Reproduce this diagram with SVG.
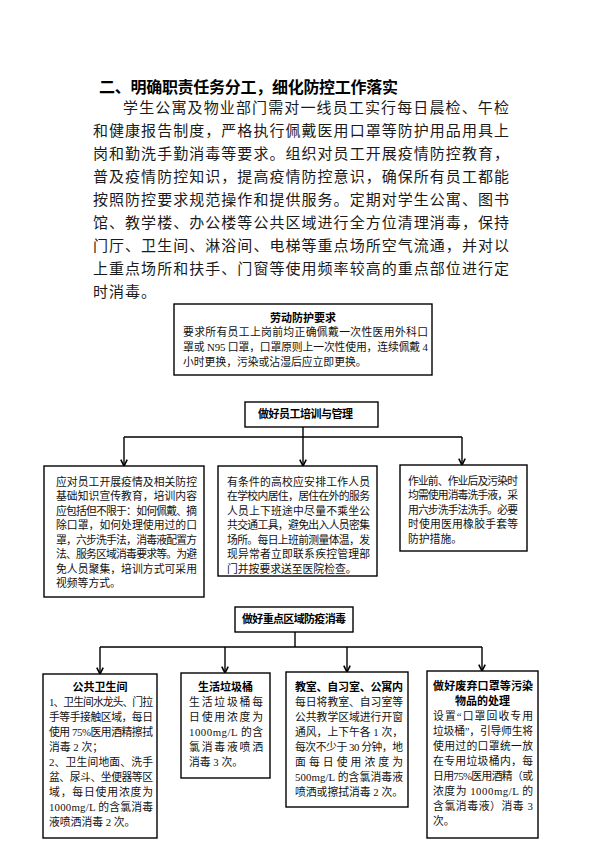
<svg xmlns="http://www.w3.org/2000/svg" width="600" height="848" viewBox="0 0 600 848">
<defs>
<marker id="arr" viewBox="0 0 10 10" refX="9" refY="5" markerWidth="8" markerHeight="8" markerUnits="userSpaceOnUse" orient="auto">
<path d="M1,1 L9,5 L1,9" fill="none" stroke="#000" stroke-width="2"/>
</marker>
<style>
.h{font-family:"Noto Sans CJK SC",sans-serif;font-weight:700;font-size:16px;fill:#000}
.p{font-family:"Noto Sans CJK SC",sans-serif;font-size:15px;fill:#1a1a1a}
.t{font-family:"Liberation Serif","Noto Sans CJK SC",serif;font-size:10.8px;fill:#111}
.b{font-family:"Noto Sans CJK SC",sans-serif;font-weight:700;font-size:11px;fill:#000}
.box{fill:#fff;stroke:#000;stroke-width:1.4}
.ln{fill:none;stroke:#000;stroke-width:1.4}
.ar{fill:none;stroke:#000;stroke-width:1.4;marker-end:url(#arr)}
</style>
</defs>
<rect width="600" height="848" fill="#fff"/>

<g id="heading">
<text class="h" x="99" y="93" textLength="299" lengthAdjust="spacing">二、明确职责任务分工，细化防控工作落实</text>
</g>
<g id="paragraph">
<text class="p" x="123" y="113" textLength="386" lengthAdjust="spacing">学生公寓及物业部门需对一线员工实行每日晨检、午检</text>
<text class="p" x="93" y="136" textLength="416" lengthAdjust="spacing">和健康报告制度，严格执行佩戴医用口罩等防护用品用具上</text>
<text class="p" x="93" y="159" textLength="416" lengthAdjust="spacing">岗和勤洗手勤消毒等要求。组织对员工开展疫情防控教育，</text>
<text class="p" x="93" y="182" textLength="416" lengthAdjust="spacing">普及疫情防控知识，提高疫情防控意识，确保所有员工都能</text>
<text class="p" x="93" y="205" textLength="416" lengthAdjust="spacing">按照防控要求规范操作和提供服务。定期对学生公寓、图书</text>
<text class="p" x="93" y="228" textLength="416" lengthAdjust="spacing">馆、教学楼、办公楼等公共区域进行全方位清理消毒，保持</text>
<text class="p" x="93" y="251" textLength="416" lengthAdjust="spacing">门厅、卫生间、淋浴间、电梯等重点场所空气流通，并对以</text>
<text class="p" x="93" y="274" textLength="416" lengthAdjust="spacing">上重点场所和扶手、门窗等使用频率较高的重点部位进行定</text>
<text class="p" x="93" y="297" letter-spacing="1">时消毒。</text>
</g>

<g id="connectors">
<line class="ln" x1="303" y1="427" x2="303" y2="437"/>
<line class="ln" x1="124" y1="437" x2="462" y2="437"/>
<line class="ar" x1="124" y1="437" x2="124" y2="466"/>
<line class="ar" x1="303" y1="437" x2="303" y2="466"/>
<line class="ar" x1="462" y1="437" x2="462" y2="465"/>
<line class="ln" x1="295" y1="632" x2="295" y2="647"/>
<line class="ln" x1="100" y1="647" x2="482" y2="647"/>
<line class="ar" x1="100" y1="647" x2="100" y2="674"/>
<line class="ar" x1="225" y1="647" x2="225" y2="673"/>
<line class="ar" x1="347" y1="647" x2="347" y2="672"/>
<line class="ar" x1="482" y1="647" x2="482" y2="671"/>
</g>

<g id="node-labor">
<rect class="box" x="174" y="304" width="258" height="71"/>
<text class="b" x="303" y="322" text-anchor="middle" font-size="11.5">劳动防护要求</text>
<text class="t" x="183" y="336" font-size="11" textLength="245" lengthAdjust="spacing">要求所有员工上岗前均正确佩戴一次性医用外科口</text>
<text class="t" x="183" y="351" font-size="11" textLength="245" lengthAdjust="spacing">罩或 N95 口罩，口罩原则上一次性使用，连续佩戴 4</text>
<text class="t" x="183" y="366" font-size="11">小时更换，污染或沾湿后应立即更换。</text>
</g>

<g id="node-training">
<rect class="box" x="245" y="402" width="133" height="25"/>
<text class="b" x="258" y="418" textLength="95" lengthAdjust="spacing">做好员工培训与管理</text>
</g>

<g id="node-train-left">
<rect class="box" x="44" y="466" width="160" height="131"/>
<text class="t" x="56" y="485.5" textLength="141" lengthAdjust="spacing">应对员工开展疫情及相关防控</text>
<text class="t" x="56" y="500" textLength="141" lengthAdjust="spacing">基础知识宣传教育，培训内容</text>
<text class="t" x="56" y="514.5" textLength="141" lengthAdjust="spacing">应包括但不限于：如何佩戴、摘</text>
<text class="t" x="56" y="529" textLength="141" lengthAdjust="spacing">除口罩，如何处理使用过的口</text>
<text class="t" x="56" y="543.5" textLength="141" lengthAdjust="spacing">罩，六步洗手法，消毒液配置方</text>
<text class="t" x="56" y="558" textLength="141" lengthAdjust="spacing">法、服务区域消毒要求等。为避</text>
<text class="t" x="56" y="572.5" textLength="141" lengthAdjust="spacing">免人员聚集，培训方式可采用</text>
<text class="t" x="56" y="587">视频等方式。</text>
</g>

<g id="node-train-mid">
<rect class="box" x="218" y="466" width="159" height="110"/>
<text class="t" x="227" y="485.5" textLength="143" lengthAdjust="spacing">有条件的高校应安排工作人员</text>
<text class="t" x="227" y="500" textLength="143" lengthAdjust="spacing">在学校内居住，居住在外的服务</text>
<text class="t" x="227" y="514.5" textLength="143" lengthAdjust="spacing">人员上下班途中尽量不乘坐公</text>
<text class="t" x="227" y="529" textLength="143" lengthAdjust="spacing">共交通工具，避免出入人员密集</text>
<text class="t" x="227" y="543.5" textLength="143" lengthAdjust="spacing">场所。每日上班前测量体温，发</text>
<text class="t" x="227" y="558" textLength="143" lengthAdjust="spacing">现异常者立即联系疾控管理部</text>
<text class="t" x="227" y="572.5">门并按要求送至医院检查。</text>
</g>

<g id="node-train-right">
<rect class="box" x="400" y="465" width="127" height="86"/>
<text class="t" x="408" y="484.5" textLength="110" lengthAdjust="spacing">作业前、作业后及污染时</text>
<text class="t" x="408" y="499" textLength="110" lengthAdjust="spacing">均需使用消毒洗手液，采</text>
<text class="t" x="408" y="513.5" textLength="110" lengthAdjust="spacing">用六步洗手法洗手。必要</text>
<text class="t" x="408" y="528" textLength="110" lengthAdjust="spacing">时使用医用橡胶手套等</text>
<text class="t" x="408" y="542.5">防护措施。</text>
</g>

<g id="node-disinfect">
<rect class="box" x="235" y="607" width="118" height="25"/>
<text class="b" x="294" y="623" text-anchor="middle" textLength="104" lengthAdjust="spacing">做好重点区域防疫消毒</text>
</g>

<g id="node-toilet">
<rect class="box" x="43" y="674" width="114" height="164"/>
<text class="b" x="100" y="691" text-anchor="middle">公共卫生间</text>
<text class="t" x="49" y="706" textLength="104" lengthAdjust="spacing">1、卫生间水龙头、门拉</text>
<text class="t" x="49" y="721" textLength="104" lengthAdjust="spacing">手等手接触区域，每日</text>
<text class="t" x="49" y="736" textLength="104" lengthAdjust="spacing">使用 75%医用酒精擦拭</text>
<text class="t" x="49" y="751">消毒 2 次；</text>
<text class="t" x="49" y="766" textLength="104" lengthAdjust="spacing">2、卫生间地面、洗手</text>
<text class="t" x="49" y="781" textLength="104" lengthAdjust="spacing">盆、尿斗、坐便器等区</text>
<text class="t" x="49" y="796" textLength="104" lengthAdjust="spacing">域，每日使用浓度为</text>
<text class="t" x="49" y="811" textLength="104" lengthAdjust="spacing">1000mg/L 的含氯消毒</text>
<text class="t" x="49" y="826">液喷洒消毒 2 次。</text>
</g>

<g id="node-bin">
<rect class="box" x="181" y="673" width="89" height="105"/>
<text class="b" x="225.5" y="691" text-anchor="middle">生活垃圾桶</text>
<text class="t" x="189" y="706" textLength="74" lengthAdjust="spacing">生活垃圾桶每</text>
<text class="t" x="189" y="721" textLength="74" lengthAdjust="spacing">日使用浓度为</text>
<text class="t" x="189" y="736" textLength="74" lengthAdjust="spacing">1000mg/L 的含</text>
<text class="t" x="189" y="751" textLength="74" lengthAdjust="spacing">氯消毒液喷洒</text>
<text class="t" x="189" y="766">消毒 3 次。</text>
</g>

<g id="node-classroom">
<rect class="box" x="286" y="672" width="122" height="135"/>
<text class="b" x="295" y="691" textLength="108" lengthAdjust="spacing">教室、自习室、公寓内</text>
<text class="t" x="295" y="706" textLength="108" lengthAdjust="spacing">每日将教室、自习室等</text>
<text class="t" x="295" y="721" textLength="108" lengthAdjust="spacing">公共教学区域进行开窗</text>
<text class="t" x="295" y="736" textLength="108" lengthAdjust="spacing">通风，上下午各 1 次，</text>
<text class="t" x="295" y="751" textLength="108" lengthAdjust="spacing">每次不少于 30 分钟，地</text>
<text class="t" x="295" y="766" textLength="108" lengthAdjust="spacing">面每日使用浓度为</text>
<text class="t" x="295" y="781" textLength="108" lengthAdjust="spacing">500mg/L 的含氯消毒液</text>
<text class="t" x="295" y="796" textLength="108" lengthAdjust="spacing">喷洒或擦拭消毒 2 次。</text>
</g>

<g id="node-mask">
<rect class="box" x="427" y="671" width="111" height="167"/>
<text class="b" x="433" y="690" textLength="100" lengthAdjust="spacing">做好废弃口罩等污染</text>
<text class="b" x="482.5" y="705" text-anchor="middle">物品的处理</text>
<text class="t" x="433" y="720" textLength="100" lengthAdjust="spacing">设置“口罩回收专用</text>
<text class="t" x="433" y="735" textLength="100" lengthAdjust="spacing">垃圾桶”，引导师生将</text>
<text class="t" x="433" y="750" textLength="100" lengthAdjust="spacing">使用过的口罩统一放</text>
<text class="t" x="433" y="765" textLength="100" lengthAdjust="spacing">在专用垃圾桶内，每</text>
<text class="t" x="433" y="780" textLength="100" lengthAdjust="spacing">日用75%医用酒精（或</text>
<text class="t" x="433" y="795" textLength="100" lengthAdjust="spacing">浓度为 1000mg/L 的</text>
<text class="t" x="433" y="810" textLength="100" lengthAdjust="spacing">含氯消毒液）消毒 3</text>
<text class="t" x="433" y="825">次。</text>
</g>
</svg>
